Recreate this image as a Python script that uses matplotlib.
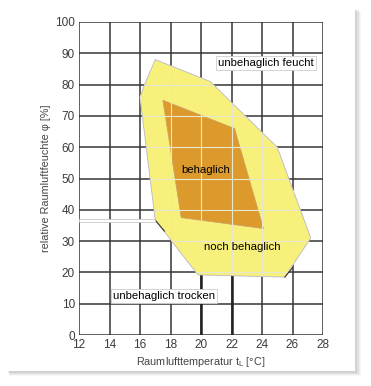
import numpy as np
import matplotlib.pyplot as plt
from matplotlib.patches import Polygon, Rectangle

plt.rcParams['font.family'] = ['Liberation Sans', 'DejaVu Sans']

# Behaglichkeitsfeld (Raumlufttemperatur / relative Feuchte)
noch_t = [17.0, 20.6, 25.0, 27.2, 25.5, 19.8, 17.0, 16.0, 16.3]
noch_phi = [88, 81, 60, 31, 18.5, 19.2, 36.7, 76, 80]
beh_t = [17.5, 22.2, 24.1, 18.7]
beh_phi = [75, 66, 34, 37.5]

x_ticks = [12, 14, 16, 18, 20, 22, 24, 26, 28]
y_ticks = [0, 10, 20, 30, 40, 50, 60, 70, 80, 90, 100]

fig = plt.figure(figsize=(3.71, 3.86), dpi=100)
fig.patch.set_facecolor('white')

# Karte mit Schatten
for i, a in enumerate([0.03, 0.04, 0.05, 0.06]):
    d = (4 - i) / 371
    fig.add_artist(Rectangle((8/371 + d*0.3, 1 - 372/386 - d), 348/371 + d, 364/386,
                             transform=fig.transFigure, fc='black', ec='none', alpha=a, zorder=0))
fig.add_artist(Rectangle((8/371, 1 - 371/386), 347/371, 364/386,
                         transform=fig.transFigure, fc='white', ec='none', zorder=0.5))

ax = fig.add_axes([79/371, 1 - 335/386, 244/371, 313/386])
ax.set_zorder(2)
ax.set_facecolor('none')
ax.set_xlim(12, 28)
ax.set_ylim(0, 100)

gridc = '#353535'
for x in x_ticks:
    ax.axvline(x, color=gridc, lw=1.1, zorder=1)
for y in y_ticks:
    ax.axhline(y, color=gridc, lw=1.1, zorder=1)
# kräftigere Linien unten
ax.vlines([20, 22], 0, 19.5, color='#222222', lw=1.8, zorder=1)

outer = Polygon(np.column_stack([noch_t, noch_phi]), closed=True,
                fc='#f7f07a', ec='#b8b8c8', lw=0.6, zorder=2)
inner = Polygon(np.column_stack([beh_t, beh_phi]), closed=True,
                fc='#dc9a2c', ec='#c9a070', lw=0.5, zorder=3)
ax.add_patch(outer)
ax.add_patch(inner)

# helle Gitterlinien im Feld
vl = ax.vlines(x_ticks, 0, 100, color='#e6e6d2', lw=0.8, zorder=4)
hl = ax.hlines(y_ticks, 12, 28, color='#e6e6d2', lw=0.8, zorder=4)
vl.set_clip_path(outer)
hl.set_clip_path(outer)

# dunkle Kanten
ax.plot([17.0, 17.6], [36.7, 33.2], color='#333333', lw=0.8, zorder=5)
ax.plot([25.5, 26.0], [18.5, 21.5], color='#333333', lw=0.8, zorder=5)

# Artefakt bei 37 %
ax.add_patch(Rectangle((12, 36.0), 5.0, 1.0, fc='white', ec='#c0c0c0', lw=0.5, zorder=5))

for s in ax.spines.values():
    s.set_visible(False)

ax.set_xticks(x_ticks)
ax.set_yticks(y_ticks)
ax.tick_params(length=0, labelsize=8.5, labelcolor='#3c3c3c', pad=3)
ax.tick_params(axis='y', pad=3)

ax.set_xlabel('Raumlufttemperatur t$_\\mathregular{L}$ [°C]', fontsize=7.8, color='#444444', labelpad=3)
ax.set_ylabel('relative Raumluftfeuchte φ [%]', fontsize=7.8, color='#444444', labelpad=3)

box = dict(fc='white', ec='#cccccc', lw=0.6, pad=1.5)
ax.text(24.25, 86.8, 'unbehaglich feucht', fontsize=8.2, ha='center', va='center', bbox=box, zorder=6)
ax.text(20.3, 52.7, 'behaglich', fontsize=8.2, ha='center', va='center', zorder=6)
ax.text(22.7, 28.0, 'noch behaglich', fontsize=8.2, ha='center', va='center', zorder=6)
ax.text(17.6, 12.5, 'unbehaglich trocken', fontsize=8.2, ha='center', va='center', bbox=box, zorder=6)

fig.savefig('out.png', dpi=100)
